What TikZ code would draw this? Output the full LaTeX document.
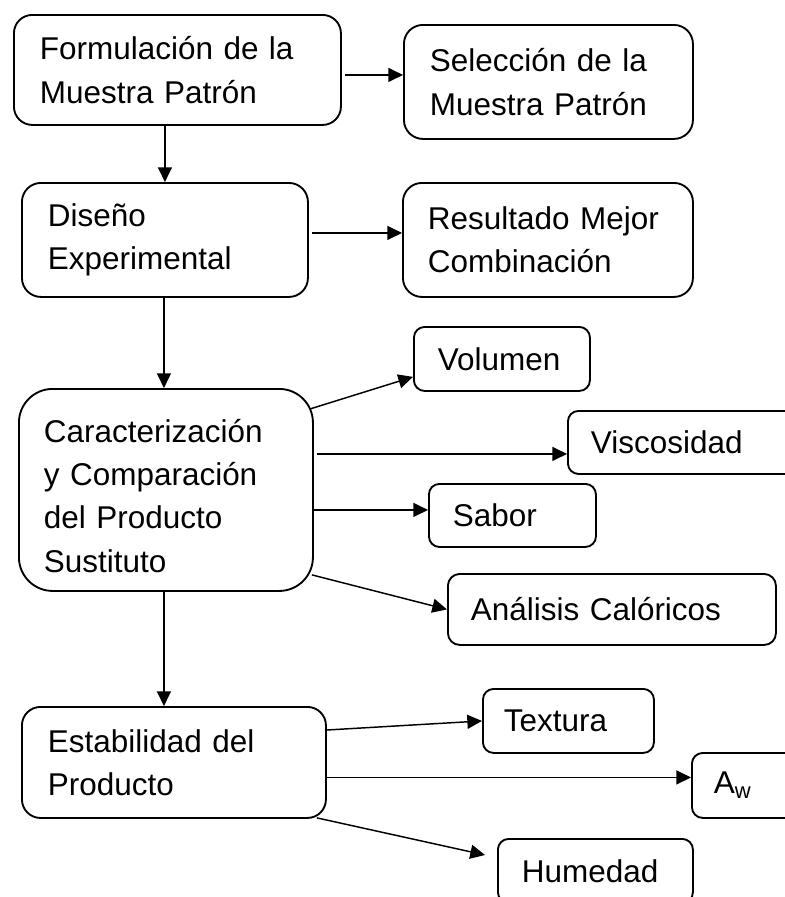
\documentclass[tikz,border=0pt]{standalone}
\usepackage{fontspec}
\setmainfont{Liberation Sans}
\usetikzlibrary{arrows.meta,calc}
\tikzset{
  flow/.style={draw, line width=1.4pt, anchor=north west, align=left, inner ysep=0pt,
    font=\fontsize{23.6pt}{32.5pt}\selectfont},
  arr/.style={-{Triangle[length=11pt,width=10.5pt]}, line width=1.1pt},
}
% name, x0, y0, x1, y1, text x, text  (all in px)
\newcommand\flowbox[7]{%
  \pgfmathsetmacro\bw{(#4-#2)*0.75}%
  \pgfmathsetmacro\bh{(#5-#3)*0.75}%
  \pgfmathsetmacro\bp{(#6-#2)*0.75}%
  \pgfmathsetmacro\bt{(#4-#2)*0.75-2*\bp}%
  \pgfmathsetmacro\br{min(#4-#2,#5-#3)*0.75/6}%
  \node[flow, minimum width=\bw pt, minimum height=\bh pt, text width=\bt pt,
    inner xsep=\bp pt, rounded corners=\br pt] (#1) at (#2,#3) {#7};}
\begin{document}
\begin{tikzpicture}[x=0.75pt,y=-0.75pt]
\useasboundingbox (0,0) rectangle (785,897);
\clip (0,0) rectangle (785,897);
\flowbox{form}{13}{14}{340}{124}{39}{Formulación de la\\Muestra Patrón}
\flowbox{sel}{403}{24}{692}{138}{429}{Selección de la\\Muestra Patrón}
\flowbox{dis}{21}{182}{307}{296}{47}{Diseño\\Experimental}
\flowbox{res}{402}{182}{692}{296}{427}{Resultado Mejor\\Combinación}
\flowbox{car}{18}{388}{312}{590}{43}{\rule{0pt}{26pt}Caracterización\\y Comparación\\del Producto\\Sustituto}
\flowbox{vol}{413}{326}{589}{390}{437}{Volumen}
\flowbox{visc}{567}{410}{830}{473}{590}{Viscosidad}
\flowbox{sab}{428}{483}{595}{546}{452}{Sabor}
\flowbox{ana}{447}{573}{775}{644}{470}{Análisis Calóricos}
\flowbox{est}{21}{706}{325}{817}{47}{Estabilidad del\\Producto}
\flowbox{tex}{482}{688}{653}{752}{503}{Textura}
\flowbox{aw}{691}{752}{860}{817}{713}{A\textsubscript{w}}
\flowbox{hum}{497}{838}{692}{902}{521}{Humedad}

\draw[arr] ($(form.east)+(3,5)$) coordinate (p1) -- (p1 -| sel.west);
\draw[arr] (form.south -| dis.north) -- (dis.north);
\draw[arr] ($(dis.east)+(3,-7)$) coordinate (p2) -- (p2 -| res.west);
\draw[arr] ($(dis.south)+(-1,0)$) coordinate (p7) -- (p7 |- car.north);
\draw[arr] ($(car.north east)+(-4,21)$) -- ($(vol.south west)+(0,-15)$);
\draw[arr] ($(car.east)+(3,-36)$) coordinate (p3) -- (p3 -| visc.west);
\draw[arr] ($(car.east)+(0,20)$) coordinate (p4) -- (p4 -| sab.west);
\draw[arr] ($(car.south east)+(-2,-17)$) -- (ana.west);
\draw[arr] ($(car.south)+(-2,0)$) coordinate (p5) -- (p5 |- est.north);
\draw[arr] ($(est.north east)+(0,24)$) -- (tex.west);
\draw[arr] ($(est.east)+(0,15)$) coordinate (p6) -- (p6 -| aw.west);
\draw[arr] ($(est.south east)+(-10,-1)$) -- ($(hum.north west)+(-12,17)$);
\end{tikzpicture}
\end{document}
